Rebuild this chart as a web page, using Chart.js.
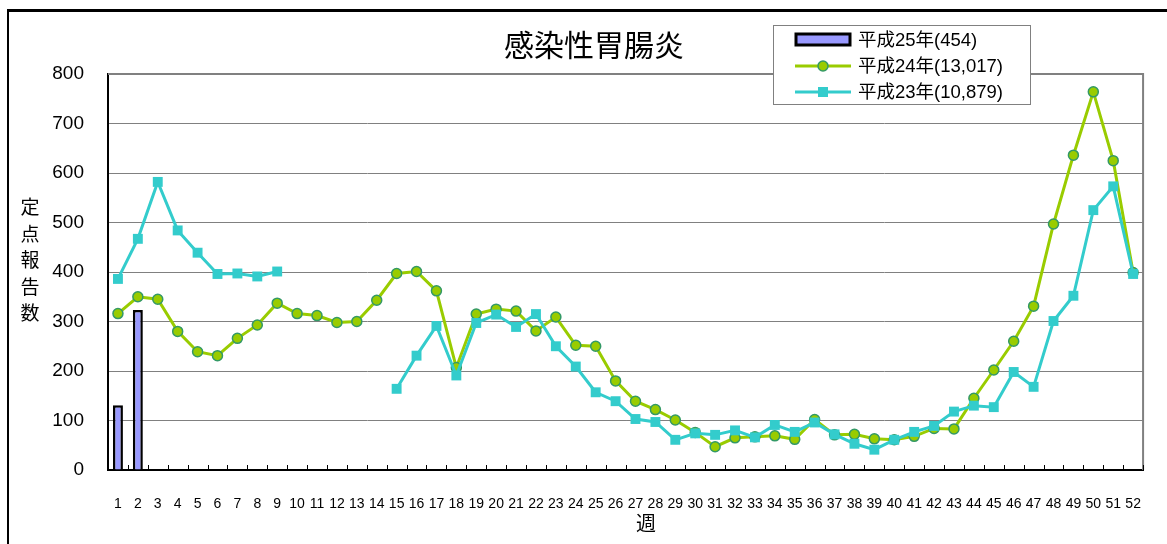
<!DOCTYPE html>
<html>
<head>
<meta charset="utf-8">
<script src="https://cdn.jsdelivr.net/npm/chart.js@4/dist/chart.umd.min.js"></script>
<style>
  body { margin: 0; background: #fff; }
  #wrap { position: relative; width: 1167px; height: 544px; overflow: hidden; }
  #frame { position: absolute; left: 7px; top: 9px; width: 1300px; height: 700px;
           border-left: 2px solid #000; border-top: 3px solid #000; }
  #myChart { position: absolute; left: 0; top: 0; }
  .axisTitle { position: absolute; font-family: 'Noto Sans CJK JP', sans-serif; color: #000; }
  #yTitle { left: 19px; top: 193px; width: 22px; font-size: 19px; line-height: 26.6px; text-align: center; }
  #xTitle { left: 636px; top: 512px; font-size: 20px; line-height: 22px; }
</style>
</head>
<body>
<div id="wrap">
  <div id="frame"></div>
  <canvas id="myChart" width="1167" height="544"></canvas>
  <div id="yTitle" class="axisTitle">定<br>点<br>報<br>告<br>数</div>
  <div id="xTitle" class="axisTitle">週</div>
</div>
<script>
//DATA
const weeks = ["1","2","3","4","5","6","7","8","9","10","11","12","13","14","15","16","17","18",
  "19","20","21","22","23","24","25","26","27","28","29","30","31","32","33","34","35","36",
  "37","38","39","40","41","42","43","44","45","46","47","48","49","50","51","52"];

const h25 = [131, 323];

const h24 = [316, 350, 345, 280, 239, 231, 266, 293, 337, 316,
  312, 298, 300, 343, 397, 401, 362, 207, 315, 325,
  321, 281, 309, 252, 250, 180, 139, 122, 101, 76,
  47, 65, 67, 69, 62, 102, 71, 72, 63, 61,
  68, 84, 83, 145, 202, 260, 331, 497, 636, 764,
  625, 399];

const h23 = [386, 467, 582, 484, 439, 396, 397, 391, 401, null,
  null, null, null, null, 164, 231, 291, 191, 297, 314,
  289, 315, 250, 209, 157, 139, 103, 97, 61, 74,
  71, 80, 66, 91, 77, 96, 72, 53, 41, 61,
  77, 89, 118, 130, 127, 198, 168, 301, 352, 525,
  573, 396];

const seriesNames = ["平成25年(454)", "平成24年(13,017)", "平成23年(10,879)"];
const yTicks = [0, 800, 100]; // min, max, step

//COLOURS
const barColor = "#9999FF",
  greenColor = "#99CC00",
  greenEdge = "#339966",
  cyanColor = "#33CCCC";

const FONT = "'Liberation Sans', 'Noto Sans CJK JP', sans-serif";
Chart.defaults.font.family = FONT;
Chart.defaults.color = "#000";

//PLOT FRAME + INWARD TICK MARKS
const framePlugin = {
  id: "frame",
  beforeDatasetsDraw(chart) {
    const { ctx, chartArea: a, scales } = chart;
    ctx.save();
    ctx.strokeStyle = "#808080";
    ctx.lineWidth = 2;
    ctx.beginPath();
    ctx.moveTo(a.left, a.top);
    ctx.lineTo(a.right, a.top);
    ctx.lineTo(a.right, a.bottom);
    ctx.stroke();
    // tick marks between weeks, pointing up into the plot
    const x = scales.x;
    const half = (x.getPixelForTick(1) - x.getPixelForTick(0)) / 2;
    ctx.strokeStyle = "#000";
    ctx.lineWidth = 1;
    ctx.beginPath();
    for (let i = 0; i < weeks.length; i++) {
      const px = Math.round(x.getPixelForTick(i) + half) + 0.5;
      ctx.moveTo(px, a.bottom);
      ctx.lineTo(px, a.bottom - 5);
    }
    ctx.stroke();
    ctx.restore();
  },
};

//LEGEND BOX
const legendPlugin = {
  id: "boxLegend",
  afterDraw(chart) {
    const { ctx } = chart;
    const bx = 773, by = 25, bw = 257, bh = 79;
    ctx.save();
    ctx.fillStyle = "#fff";
    ctx.fillRect(bx, by, bw, bh);
    ctx.strokeStyle = "#808080";
    ctx.lineWidth = 1;
    ctx.strokeRect(bx + 0.5, by + 0.5, bw, bh);

    const rows = [40, 66, 92];
    const mx0 = 795, mx1 = 851, mc = 823;
    const ds = chart.data.datasets;
    // bar swatch
    ctx.fillStyle = barColor;
    ctx.strokeStyle = "#000";
    ctx.lineWidth = 3;
    ctx.fillRect(mx0 + 1, rows[0] - 6, mx1 - mx0 - 2, 11);
    ctx.strokeRect(mx0 + 1, rows[0] - 6, mx1 - mx0 - 2, 11);
    // green line + circle
    ctx.strokeStyle = greenColor;
    ctx.lineWidth = 3;
    ctx.beginPath();
    ctx.moveTo(mx0, rows[1]);
    ctx.lineTo(mx1, rows[1]);
    ctx.stroke();
    ctx.fillStyle = greenColor;
    ctx.strokeStyle = greenEdge;
    ctx.lineWidth = 1.5;
    ctx.beginPath();
    ctx.arc(mc, rows[1], 5, 0, Math.PI * 2);
    ctx.fill();
    ctx.stroke();
    // cyan line + square
    ctx.strokeStyle = cyanColor;
    ctx.lineWidth = 3;
    ctx.beginPath();
    ctx.moveTo(mx0, rows[2]);
    ctx.lineTo(mx1, rows[2]);
    ctx.stroke();
    ctx.fillStyle = cyanColor;
    ctx.fillRect(mc - 5, rows[2] - 5, 10, 10);

    ctx.fillStyle = "#000";
    ctx.font = "18.5px " + FONT;
    ctx.textBaseline = "middle";
    ctx.textAlign = "left";
    ctx.fillText(ds[0].label, 858, rows[0] + 1);
    ctx.fillText(ds[1].label, 858, rows[1] + 1);
    ctx.fillText(ds[2].label, 858, rows[2] + 1);
    ctx.restore();
  },
};

const data = {
  labels: weeks,
  datasets: [
    {
      type: "bar",
      label: seriesNames[0],
      data: h25,
      backgroundColor: barColor,
      borderColor: "#000",
      borderWidth: 2.5,
      barPercentage: 0.5,
      categoryPercentage: 1.0,
      order: 3,
    },
    {
      type: "line",
      label: seriesNames[1],
      data: h24,
      borderColor: greenColor,
      borderWidth: 3,
      tension: 0,
      pointStyle: "circle",
      pointRadius: 5,
      pointBackgroundColor: greenColor,
      pointBorderColor: greenEdge,
      pointBorderWidth: 1.5,
      order: 2,
    },
    {
      type: "line",
      label: seriesNames[2],
      data: h23,
      borderColor: cyanColor,
      borderWidth: 3,
      tension: 0,
      spanGaps: false,
      pointStyle: "rect",
      pointRadius: 7,
      pointBackgroundColor: cyanColor,
      pointBorderColor: cyanColor,
      pointBorderWidth: 0,
      order: 1,
    },
  ],
};

const config = {
  type: "bar",
  data: data,
  options: {
    responsive: false,
    animation: false,
    devicePixelRatio: 1,
    layout: { padding: { left: 30, right: 9, top: 10, bottom: 0 } },
    plugins: {
      legend: { display: false },
      tooltip: { enabled: false },
      title: {
        display: true,
        text: "感染性胃腸炎",
        font: { size: 30, weight: "normal", family: "'Noto Sans CJK JP', sans-serif" },
        color: "#000",
        padding: { top: 17, bottom: 11 },
      },
    },
    scales: {
      x: {
        offset: true,
        grid: { display: false, drawTicks: false },
        border: { display: true, color: "#000", width: 2 },
        ticks: { font: { size: 14 }, padding: 26, maxRotation: 0, autoSkip: false, color: "#000" },
        afterFit(s) { s.height = 74; },
      },
      y: {
        min: yTicks[0],
        max: yTicks[1],
        ticks: { stepSize: yTicks[2], font: { size: 19 }, padding: 24, color: "#000" },
        grid: { color: "#808080", lineWidth: 1, drawTicks: false },
        border: { display: true, color: "#000", width: 2 },
        afterFit(s) { s.width = 78; },
      },
    },
  },
  plugins: [framePlugin, legendPlugin],
};

const myChart = new Chart(document.getElementById("myChart"), config);
</script>
</body>
</html>
